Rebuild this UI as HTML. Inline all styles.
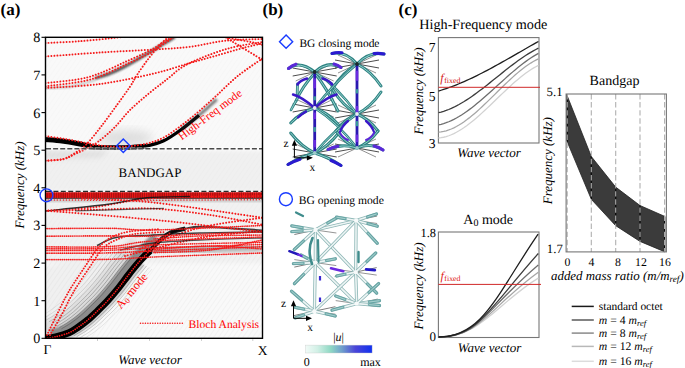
<!DOCTYPE html><html><head><meta charset="utf-8"><style>html,body{margin:0;padding:0;background:#fff;overflow:hidden;width:685px;height:368px;}svg{display:block;} text{font-family:"Liberation Serif",serif;text-rendering:geometricPrecision;}</style></head><body>
<svg width="685" height="368" viewBox="0 0 685 368">
<defs><clipPath id="ca"><rect x="45.5" y="37.3" width="217.0" height="301.0"/></clipPath><filter id="b1" x="-20%" y="-20%" width="140%" height="140%"><feGaussianBlur stdDeviation="1.2"/></filter><filter id="b05" x="-20%" y="-20%" width="140%" height="140%"><feGaussianBlur stdDeviation="0.6"/></filter><filter id="b08" x="-20%" y="-20%" width="140%" height="140%"><feGaussianBlur stdDeviation="0.85"/></filter><filter id="b2" x="-20%" y="-20%" width="140%" height="140%"><feGaussianBlur stdDeviation="2.5"/></filter><filter id="b4" x="-30%" y="-30%" width="160%" height="160%"><feGaussianBlur stdDeviation="5"/></filter><pattern id="stripes" width="4" height="4" patternUnits="userSpaceOnUse" patternTransform="rotate(35)"><line x1="0" y1="0" x2="0" y2="4" stroke="#000" stroke-opacity="0.035" stroke-width="1.5"/></pattern><pattern id="vstr" width="2.2" height="8" patternUnits="userSpaceOnUse"><rect x="1.1" width="0.9" height="8" fill="#300" fill-opacity="0.55"/></pattern><linearGradient id="cbar" x1="0" x2="1" y1="0" y2="0"><stop offset="0" stop-color="#f2fbf8"/><stop offset="0.18" stop-color="#d2f0e6"/><stop offset="0.38" stop-color="#8fd8c4"/><stop offset="0.55" stop-color="#6f9fcc"/><stop offset="0.75" stop-color="#4a45d8"/><stop offset="1" stop-color="#1030f0"/></linearGradient></defs>
<g clip-path="url(#ca)">
<rect x="45.5" y="37.3" width="217.0" height="301.0" fill="#f9f9f9"/>
<g filter="url(#b2)">
<rect x="40" y="151" width="230" height="40" fill="#f0f0f0"/>
<rect x="40" y="199" width="230" height="64" fill="#f1f1f1"/>
<path d="M40,345 L40,268 L70,262 L120,262 L112,285 L92,305 L72,325 L58,335 Z" fill="#f0f0f0"/>
<path d="M40,150 L110,150 L100,158 L40,160 Z" fill="#e2e2e2"/>
</g>
<rect x="45.5" y="252" width="217.0" height="86.3" fill="url(#stripes)"/>
<rect x="45.5" y="200" width="217.0" height="52" fill="url(#stripes)" opacity="0.5"/>
<rect x="45.5" y="37.3" width="217.0" height="162.7" fill="url(#stripes)" opacity="0.4"/>
<ellipse cx="125" cy="138" rx="28" ry="8" fill="#d8d8d8" filter="url(#b4)" opacity="0.8"/>
<path d="M40.0,139.4 C43.3,139.6 53.3,140.0 60.0,140.8 C66.7,141.6 74.2,142.9 80.0,144.0 C85.8,145.1 89.2,146.7 95.0,147.3 C100.8,147.9 109.0,147.8 115.0,147.8 C121.0,147.8 125.8,147.7 131.0,147.4 C136.2,147.1 140.6,147.3 146.0,146.2 C151.4,145.1 157.8,143.6 163.7,140.8 C169.6,138.0 175.4,133.8 181.3,129.5 C187.2,125.2 196.1,117.7 199.0,115.3" stroke="#000" stroke-width="3.4" fill="none" filter="url(#b05)"/>
<path d="M40.0,139.4 C43.3,139.6 53.3,140.0 60.0,140.8 C66.7,141.6 74.2,142.9 80.0,144.0 C85.8,145.1 89.2,146.7 95.0,147.3 C100.8,147.9 109.0,147.8 115.0,147.8 C121.0,147.8 125.8,147.7 131.0,147.4 C136.2,147.1 143.5,146.4 146.0,146.2" stroke="#000" stroke-width="5" fill="none" filter="url(#b05)"/>
<path d="M181.3,129.5 C184.2,127.1 193.1,120.3 199.0,115.3 C204.9,110.3 213.8,102.1 216.7,99.4" stroke="#222" stroke-width="3" fill="none" filter="url(#b1)" opacity="0.6"/>
<path d="M95.0,78.5 C97.5,77.7 105.0,75.5 110.0,73.5 C115.0,71.5 120.0,69.1 125.0,66.5 C130.0,63.9 135.5,60.6 140.0,58.0 C144.5,55.4 147.8,53.5 152.0,51.0 C156.2,48.5 161.2,45.3 165.0,43.0 C168.8,40.7 173.3,38.0 175.0,37.0" stroke="#222" stroke-width="2.6" fill="none" filter="url(#b1)" opacity="0.85"/>
<path d="M45.0,88.0 C49.2,87.8 61.7,87.8 70.0,86.5 C78.3,85.2 90.8,81.1 95.0,80.0" stroke="#555" stroke-width="2" fill="none" filter="url(#b1)" opacity="0.35"/>
<path d="M55.7,336.8 C57.9,336.1 65.2,334.4 69.0,332.8 C72.8,331.2 75.3,329.2 78.5,327.0 C81.7,324.8 84.8,322.5 88.0,319.8 C91.2,317.1 94.3,314.0 97.5,310.9 C100.7,307.8 103.5,305.2 107.0,301.4 C110.5,297.6 114.9,292.4 118.4,288.1 C121.9,283.8 124.6,279.9 128.0,275.5 C131.4,271.1 135.3,266.2 139.0,262.0 C142.7,257.8 148.2,252.4 150.0,250.5" stroke="#c4c4c4" stroke-width="20" fill="none" filter="url(#b2)" transform="translate(-11,-6)" opacity="0.45"/>
<path d="M55.7,336.8 C57.9,336.1 65.2,334.4 69.0,332.8 C72.8,331.2 75.3,329.2 78.5,327.0 C81.7,324.8 84.8,322.5 88.0,319.8 C91.2,317.1 94.3,314.0 97.5,310.9 C100.7,307.8 103.5,305.2 107.0,301.4 C110.5,297.6 114.9,292.4 118.4,288.1 C121.9,283.8 124.6,279.9 128.0,275.5 C131.4,271.1 135.3,266.2 139.0,262.0 C142.7,257.8 146.3,254.2 150.0,250.5 C153.7,246.8 159.2,241.3 161.0,239.5" stroke="#707070" stroke-width="9" fill="none" filter="url(#b1)" transform="translate(-5,-3)" opacity="0.75"/>
<path d="M55.7,336.8 C57.9,336.1 65.2,334.4 69.0,332.8 C72.8,331.2 75.3,329.2 78.5,327.0 C81.7,324.8 84.8,322.5 88.0,319.8 C91.2,317.1 94.3,314.0 97.5,310.9 C100.7,307.8 103.5,305.2 107.0,301.4 C110.5,297.6 114.9,292.4 118.4,288.1 C121.9,283.8 124.6,279.9 128.0,275.5 C131.4,271.1 137.2,264.2 139.0,262.0" stroke="#aaa" stroke-width="5" fill="none" filter="url(#b1)" transform="translate(3.5,2)" opacity="0.6"/>
<path d="M45.5,338.3 C47.2,338.1 51.8,337.7 55.7,336.8 C59.6,335.9 65.2,334.4 69.0,332.8 C72.8,331.2 75.3,329.2 78.5,327.0 C81.7,324.8 84.8,322.5 88.0,319.8 C91.2,317.1 94.3,314.0 97.5,310.9 C100.7,307.8 103.5,305.2 107.0,301.4 C110.5,297.6 114.9,292.4 118.4,288.1 C121.9,283.8 124.6,279.9 128.0,275.5 C131.4,271.1 135.3,266.2 139.0,262.0 C142.7,257.8 148.2,252.4 150.0,250.5" stroke="#000" stroke-width="7" fill="none" filter="url(#b05)"/>
<path d="M139.0,262.0 C140.8,260.1 146.3,254.2 150.0,250.5 C153.7,246.8 157.5,242.5 161.0,239.5 C164.5,236.5 166.8,234.3 170.8,232.5 C174.9,230.7 182.9,229.2 185.3,228.6" stroke="#000" stroke-width="4.2" fill="none" filter="url(#b05)" opacity="0.9"/>
<path d="M170.8,232.5 C173.2,231.8 179.9,229.5 185.3,228.6 C190.7,227.7 190.6,226.5 203.4,226.8 C216.2,227.1 252.2,229.8 262.0,230.4" stroke="#000" stroke-width="2" fill="none" filter="url(#b05)" opacity="0.75"/>
<path d="M69.0,332.8 C70.6,331.8 75.3,329.2 78.5,327.0 C81.7,324.8 84.8,322.5 88.0,319.8 C91.2,317.1 94.3,314.0 97.5,310.9 C100.7,307.8 103.5,305.2 107.0,301.4 C110.5,297.6 114.9,292.4 118.4,288.1 C121.9,283.8 124.6,279.9 128.0,275.5 C131.4,271.1 137.2,264.2 139.0,262.0" stroke="#444" stroke-width="0.9" fill="none" opacity="0.45" transform="translate(-7.5,-4.0)"/>
<path d="M69.0,332.8 C70.6,331.8 75.3,329.2 78.5,327.0 C81.7,324.8 84.8,322.5 88.0,319.8 C91.2,317.1 94.3,314.0 97.5,310.9 C100.7,307.8 103.5,305.2 107.0,301.4 C110.5,297.6 114.9,292.4 118.4,288.1 C121.9,283.8 124.6,279.9 128.0,275.5 C131.4,271.1 137.2,264.2 139.0,262.0" stroke="#444" stroke-width="0.9" fill="none" opacity="0.50" transform="translate(-9.5,-5.2)"/>
<path d="M69.0,332.8 C70.6,331.8 75.3,329.2 78.5,327.0 C81.7,324.8 84.8,322.5 88.0,319.8 C91.2,317.1 94.3,314.0 97.5,310.9 C100.7,307.8 103.5,305.2 107.0,301.4 C110.5,297.6 114.9,292.4 118.4,288.1 C121.9,283.8 124.6,279.9 128.0,275.5 C131.4,271.1 137.2,264.2 139.0,262.0" stroke="#444" stroke-width="0.9" fill="none" opacity="0.40" transform="translate(-12.0,-6.6)"/>
<path d="M69.0,332.8 C70.6,331.8 75.3,329.2 78.5,327.0 C81.7,324.8 84.8,322.5 88.0,319.8 C91.2,317.1 94.3,314.0 97.5,310.9 C100.7,307.8 103.5,305.2 107.0,301.4 C110.5,297.6 114.9,292.4 118.4,288.1 C121.9,283.8 124.6,279.9 128.0,275.5 C131.4,271.1 137.2,264.2 139.0,262.0" stroke="#444" stroke-width="0.9" fill="none" opacity="0.35" transform="translate(-14.5,-8.0)"/>
<path d="M69.0,332.8 C70.6,331.8 75.3,329.2 78.5,327.0 C81.7,324.8 84.8,322.5 88.0,319.8 C91.2,317.1 94.3,314.0 97.5,310.9 C100.7,307.8 103.5,305.2 107.0,301.4 C110.5,297.6 114.9,292.4 118.4,288.1 C121.9,283.8 124.6,279.9 128.0,275.5 C131.4,271.1 137.2,264.2 139.0,262.0" stroke="#444" stroke-width="0.9" fill="none" opacity="0.30" transform="translate(-17.0,-9.4)"/>
<path d="M69.0,332.8 C70.6,331.8 75.3,329.2 78.5,327.0 C81.7,324.8 84.8,322.5 88.0,319.8 C91.2,317.1 94.3,314.0 97.5,310.9 C100.7,307.8 103.5,305.2 107.0,301.4 C110.5,297.6 114.9,292.4 118.4,288.1 C121.9,283.8 124.6,279.9 128.0,275.5 C131.4,271.1 137.2,264.2 139.0,262.0" stroke="#444" stroke-width="0.9" fill="none" opacity="0.25" transform="translate(-20.0,-11.0)"/>
<path d="M69.0,332.8 C70.6,331.8 75.3,329.2 78.5,327.0 C81.7,324.8 84.8,322.5 88.0,319.8 C91.2,317.1 94.3,314.0 97.5,310.9 C100.7,307.8 103.5,305.2 107.0,301.4 C110.5,297.6 114.9,292.4 118.4,288.1 C121.9,283.8 124.6,279.9 128.0,275.5 C131.4,271.1 137.2,264.2 139.0,262.0" stroke="#444" stroke-width="0.9" fill="none" opacity="0.20" transform="translate(-23.0,-12.6)"/>
<path d="M69.0,332.8 C70.6,331.8 75.3,329.2 78.5,327.0 C81.7,324.8 84.8,322.5 88.0,319.8 C91.2,317.1 94.3,314.0 97.5,310.9 C100.7,307.8 103.5,305.2 107.0,301.4 C110.5,297.6 114.9,292.4 118.4,288.1 C121.9,283.8 124.6,279.9 128.0,275.5 C131.4,271.1 137.2,264.2 139.0,262.0" stroke="#444" stroke-width="0.9" fill="none" opacity="0.15" transform="translate(-26.0,-14.2)"/>
<path d="M69.0,332.8 C70.6,331.8 75.3,329.2 78.5,327.0 C81.7,324.8 84.8,322.5 88.0,319.8 C91.2,317.1 94.3,314.0 97.5,310.9 C100.7,307.8 103.5,305.2 107.0,301.4 C110.5,297.6 114.9,292.4 118.4,288.1 C121.9,283.8 124.6,279.9 128.0,275.5 C131.4,271.1 137.2,264.2 139.0,262.0" stroke="#444" stroke-width="0.9" fill="none" opacity="0.12" transform="translate(-29.0,-16.0)"/>
<path d="M69.0,332.8 C70.6,331.8 75.3,329.2 78.5,327.0 C81.7,324.8 84.8,322.5 88.0,319.8 C91.2,317.1 94.3,314.0 97.5,310.9 C100.7,307.8 103.5,305.2 107.0,301.4 C110.5,297.6 114.9,292.4 118.4,288.1 C121.9,283.8 124.6,279.9 128.0,275.5 C131.4,271.1 137.2,264.2 139.0,262.0" stroke="#444" stroke-width="0.9" fill="none" opacity="0.35" transform="translate(5.0,2.8)"/>
<path d="M69.0,332.8 C70.6,331.8 75.3,329.2 78.5,327.0 C81.7,324.8 84.8,322.5 88.0,319.8 C91.2,317.1 94.3,314.0 97.5,310.9 C100.7,307.8 103.5,305.2 107.0,301.4 C110.5,297.6 114.9,292.4 118.4,288.1 C121.9,283.8 124.6,279.9 128.0,275.5 C131.4,271.1 137.2,264.2 139.0,262.0" stroke="#444" stroke-width="0.9" fill="none" opacity="0.30" transform="translate(7.5,4.0)"/>
<path d="M69.0,332.8 C70.6,331.8 75.3,329.2 78.5,327.0 C81.7,324.8 84.8,322.5 88.0,319.8 C91.2,317.1 94.3,314.0 97.5,310.9 C100.7,307.8 103.5,305.2 107.0,301.4 C110.5,297.6 114.9,292.4 118.4,288.1 C121.9,283.8 124.6,279.9 128.0,275.5 C131.4,271.1 137.2,264.2 139.0,262.0" stroke="#444" stroke-width="0.9" fill="none" opacity="0.20" transform="translate(10.0,5.5)"/>
<path d="M69.0,332.8 C70.6,331.8 75.3,329.2 78.5,327.0 C81.7,324.8 84.8,322.5 88.0,319.8 C91.2,317.1 94.3,314.0 97.5,310.9 C100.7,307.8 103.5,305.2 107.0,301.4 C110.5,297.6 114.9,292.4 118.4,288.1 C121.9,283.8 124.6,279.9 128.0,275.5 C131.4,271.1 137.2,264.2 139.0,262.0" stroke="#444" stroke-width="0.9" fill="none" opacity="0.12" transform="translate(13.0,7.0)"/>
<rect x="45" y="192.3" width="218" height="5.6" fill="#f21616"/>
<line x1="45" y1="198.4" x2="263" y2="198.4" stroke="#300" stroke-width="1.1" opacity="0.75"/>
<rect x="45" y="199" width="218" height="3" fill="#777" opacity="0.35" filter="url(#b1)"/>
<path d="M45.5,43.0 C51.2,42.7 67.9,42.1 80.0,41.2 C92.1,40.3 109.7,38.4 118.0,37.5 C126.3,36.6 128.0,36.2 130.0,36.0" stroke="#f51a1a" stroke-width="1.95" stroke-dasharray="0.01 3.0" stroke-linecap="round" fill="none"/>
<path d="M45.5,56.5 C54.6,55.8 81.9,53.7 100.0,52.5 C118.1,51.3 139.0,50.5 154.0,49.5 C169.0,48.5 178.1,48.3 190.0,46.8 C201.9,45.3 213.4,42.0 225.5,40.7 C237.6,39.4 256.3,39.3 262.5,39.0" stroke="#f51a1a" stroke-width="1.95" stroke-dasharray="0.01 3.0" stroke-linecap="round" fill="none"/>
<path d="M45.5,83.1 C51.2,82.4 70.9,80.7 80.0,79.0 C89.1,77.3 92.5,76.0 100.0,73.2 C107.5,70.4 116.7,65.8 125.0,62.0 C133.3,58.2 143.7,53.8 150.0,50.5 C156.3,47.2 159.3,44.7 163.0,42.5 C166.7,40.3 169.8,38.5 172.0,37.3 C174.2,36.0 175.3,35.4 176.0,35.0" stroke="#f51a1a" stroke-width="1.95" stroke-dasharray="0.01 3.0" stroke-linecap="round" fill="none"/>
<path d="M45.5,86.3 C51.2,85.5 70.9,83.5 80.0,81.8 C89.1,80.1 92.5,79.1 100.0,76.3 C107.5,73.5 116.7,68.9 125.0,65.0 C133.3,61.1 143.3,56.7 150.0,53.0 C156.7,49.3 160.8,45.8 165.0,43.0 C169.2,40.2 173.3,37.2 175.0,36.0" stroke="#f51a1a" stroke-width="1.95" stroke-dasharray="0.01 3.0" stroke-linecap="round" fill="none"/>
<path d="M45.5,88.0 C54.6,87.3 81.9,86.4 100.0,84.0 C118.1,81.6 139.0,77.0 154.0,73.5 C169.0,70.0 179.8,65.9 190.0,63.0 C200.2,60.1 206.2,58.5 215.0,56.0 C223.8,53.5 235.1,50.1 243.0,48.0 C250.9,45.9 259.2,44.2 262.5,43.5" stroke="#f51a1a" stroke-width="1.95" stroke-dasharray="0.01 3.0" stroke-linecap="round" fill="none"/>
<path d="M226.6,37.5 C228.8,37.9 235.8,39.2 240.0,40.0 C244.2,40.8 248.2,41.5 252.0,42.3 C255.8,43.1 260.8,44.5 262.5,45.0" stroke="#f51a1a" stroke-width="1.95" stroke-dasharray="0.01 3.0" stroke-linecap="round" fill="none"/>
<path d="M45.5,160.6 C48.5,160.3 58.5,160.2 63.4,158.9 C68.3,157.6 71.1,155.5 75.0,153.0 C78.9,150.5 82.3,148.5 86.7,144.0 C91.1,139.5 96.4,132.6 101.5,126.0 C106.6,119.4 112.6,111.0 117.3,104.5 C122.0,98.0 126.3,92.2 129.6,87.3 C132.9,82.4 133.7,80.0 136.9,75.1 C140.1,70.2 144.9,63.3 149.0,58.0 C153.1,52.7 158.1,46.8 161.4,43.3 C164.7,39.8 167.1,38.6 168.7,37.2 C170.3,35.8 170.6,35.4 171.0,35.0" stroke="#f51a1a" stroke-width="1.95" stroke-dasharray="0.01 3.0" stroke-linecap="round" fill="none"/>
<path d="M45.5,160.8 C48.5,160.5 58.5,160.3 63.4,159.2 C68.3,158.1 71.1,155.8 75.0,154.0 C78.9,152.2 82.8,150.6 86.7,148.5 C90.6,146.4 93.8,145.0 98.4,141.5 C103.0,138.0 109.2,132.8 114.5,127.5 C119.8,122.2 124.3,115.7 130.0,110.0 C135.7,104.3 142.7,98.6 148.8,93.5 C154.9,88.4 161.3,83.8 166.8,79.5 C172.3,75.2 176.2,71.0 181.7,67.5 C187.2,64.0 191.9,61.8 200.0,58.5 C208.1,55.2 219.6,50.8 230.0,48.0 C240.4,45.2 257.1,43.0 262.5,42.0" stroke="#f51a1a" stroke-width="1.95" stroke-dasharray="0.01 3.0" stroke-linecap="round" fill="none"/>
<path d="M225.5,37.3 C227.9,38.8 234.1,42.6 240.0,46.2 C245.9,49.8 257.2,56.6 261.0,59.0 C264.8,61.4 262.7,60.2 263.0,60.5" stroke="#f51a1a" stroke-width="1.95" stroke-dasharray="0.01 3.0" stroke-linecap="round" fill="none"/>
<path d="M45.5,136.1 C48.8,136.6 58.1,137.8 65.0,139.0 C71.9,140.2 80.0,141.9 86.7,143.1 C93.4,144.3 98.7,145.4 105.0,146.0 C111.3,146.6 118.0,147.0 124.8,146.6 C131.6,146.2 139.5,145.3 146.0,143.8 C152.5,142.3 157.8,140.6 163.7,137.5 C169.6,134.4 175.4,129.9 181.3,125.5 C187.2,121.1 193.1,116.3 199.0,111.3 C204.9,106.3 210.2,101.3 216.7,95.4 C223.2,89.5 230.2,82.1 237.9,75.9 C245.6,69.7 258.5,61.2 262.6,58.3" stroke="#f51a1a" stroke-width="1.95" stroke-dasharray="0.01 3.0" stroke-linecap="round" fill="none"/>
<path d="M45.5,193.2 L262.5,193.0" stroke="#f51a1a" stroke-width="1.30" stroke-dasharray="0.01 3.0" stroke-linecap="round" fill="none"/>
<path d="M45.5,195.2 L262.5,195.0" stroke="#f51a1a" stroke-width="1.30" stroke-dasharray="0.01 3.0" stroke-linecap="round" fill="none"/>
<path d="M45.5,197.2 L262.5,197.0" stroke="#f51a1a" stroke-width="1.30" stroke-dasharray="0.01 3.0" stroke-linecap="round" fill="none"/>
<path d="M45.5,200.0 C62.9,200.0 113.8,200.3 150.0,200.2 C186.2,200.1 243.8,199.7 262.5,199.6" stroke="#f51a1a" stroke-width="1.50" stroke-dasharray="0.01 3.0" stroke-linecap="round" fill="none"/>
<rect x="45" y="192.3" width="218" height="5.6" fill="url(#vstr)"/>
<path d="M45.5,210.7 C53.2,210.2 76.2,209.4 92.0,207.5 C107.8,205.6 125.3,201.2 140.0,199.5 C154.7,197.8 159.6,197.6 180.0,197.0 C200.4,196.4 248.8,196.2 262.5,196.0" stroke="#f51a1a" stroke-width="1.95" stroke-dasharray="0.01 3.0" stroke-linecap="round" fill="none"/>
<path d="M45.5,211.0 C55.9,209.9 91.1,206.5 108.0,204.3 C124.9,202.1 133.1,199.1 146.8,197.8 C160.5,196.5 182.8,196.7 190.0,196.5" stroke="#111" stroke-width="1.4" fill="none" opacity="0.85"/>
<path d="M82.5,198.5 C94.4,199.2 124.0,199.4 154.0,202.6 C184.0,205.8 244.4,215.2 262.5,217.7" stroke="#f51a1a" stroke-width="1.95" stroke-dasharray="0.01 3.0" stroke-linecap="round" fill="none"/>
<path d="M45.5,210.7 C54.6,210.5 81.9,209.9 100.0,209.6 C118.1,209.2 135.7,207.7 154.0,208.6 C172.3,209.5 191.9,212.3 210.0,215.0 C228.1,217.7 253.8,223.1 262.5,224.7" stroke="#f51a1a" stroke-width="1.95" stroke-dasharray="0.01 3.0" stroke-linecap="round" fill="none"/>
<path d="M75.0,210.8 C82.5,210.6 105.2,210.0 120.0,209.6 C134.8,209.2 156.7,208.6 164.0,208.4" stroke="#111" stroke-width="1.3" fill="none" opacity="0.6"/>
<path d="M45.5,210.7 C54.6,211.4 80.2,213.3 100.0,215.0 C119.8,216.7 145.7,219.0 164.0,220.8 C182.3,222.6 193.6,224.2 210.0,226.0 C226.4,227.8 253.8,230.8 262.5,231.8" stroke="#f51a1a" stroke-width="1.95" stroke-dasharray="0.01 3.0" stroke-linecap="round" fill="none"/>
<path d="M140.0,249.0 C149.7,245.5 177.6,233.4 198.0,228.2 C218.4,223.0 251.8,219.4 262.5,217.7" stroke="#f51a1a" stroke-width="1.95" stroke-dasharray="0.01 3.0" stroke-linecap="round" fill="none"/>
<path d="M125.0,256.0 C137.5,253.0 177.1,242.2 200.0,238.0 C222.9,233.8 252.1,232.2 262.5,231.0" stroke="#f51a1a" stroke-width="1.95" stroke-dasharray="0.01 3.0" stroke-linecap="round" fill="none"/>
<path d="M97.0,245.5 C100.2,244.2 106.8,239.2 116.3,237.5 C125.8,235.8 140.1,235.8 154.0,235.0 C167.9,234.2 182.0,233.5 200.0,233.0 C218.0,232.5 251.7,232.2 262.0,232.0" stroke="#111" stroke-width="1.5" fill="none" opacity="0.8"/>
<path d="M120.0,250.0 C125.7,248.8 140.7,244.7 154.0,243.0 C167.3,241.3 182.0,240.8 200.0,240.0 C218.0,239.2 251.7,238.3 262.0,238.0" stroke="#111" stroke-width="1.3" fill="none" opacity="0.7"/>
<path d="M150.0,252.0 C158.3,251.5 181.3,249.8 200.0,249.0 C218.7,248.2 251.7,247.3 262.0,247.0" stroke="#000" stroke-width="6" fill="none" opacity="0.35" filter="url(#b2)"/>
<path d="M45.5,228.6 C56.2,228.5 91.9,228.1 110.0,228.3 C128.1,228.5 128.6,230.5 154.0,230.0 C179.4,229.5 244.4,226.2 262.5,225.5" stroke="#f51a1a" stroke-width="1.70" stroke-dasharray="0.01 1.9" stroke-linecap="round" fill="none"/>
<path d="M45.5,236.2 C56.2,236.1 91.9,235.9 110.0,235.9 C128.1,235.9 128.6,236.7 154.0,236.0 C179.4,235.3 244.4,232.5 262.5,231.8" stroke="#f51a1a" stroke-width="1.70" stroke-dasharray="0.01 1.9" stroke-linecap="round" fill="none"/>
<path d="M45.5,246.8 C56.2,246.8 91.9,247.5 110.0,246.5 C128.1,245.5 128.6,242.6 154.0,241.0 C179.4,239.4 244.4,237.7 262.5,237.0" stroke="#f51a1a" stroke-width="1.70" stroke-dasharray="0.01 1.9" stroke-linecap="round" fill="none"/>
<path d="M45.5,248.7 C56.2,248.6 91.9,249.0 110.0,248.4 C128.1,247.8 128.6,246.0 154.0,245.0 C179.4,244.0 244.4,242.8 262.5,242.4" stroke="#f51a1a" stroke-width="1.70" stroke-dasharray="0.01 1.9" stroke-linecap="round" fill="none"/>
<path d="M45.5,250.5 C56.2,250.4 91.9,250.6 110.0,250.2 C128.1,249.8 128.6,248.9 154.0,248.0 C179.4,247.1 244.4,245.1 262.5,244.5" stroke="#f51a1a" stroke-width="1.70" stroke-dasharray="0.01 1.9" stroke-linecap="round" fill="none"/>
<path d="M45.5,253.2 C56.2,253.1 91.9,253.3 110.0,252.9 C128.1,252.5 128.6,252.0 154.0,251.0 C179.4,250.0 244.4,247.5 262.5,246.8" stroke="#f51a1a" stroke-width="1.70" stroke-dasharray="0.01 1.9" stroke-linecap="round" fill="none"/>
<path d="M45.5,259.6 C56.2,259.6 91.9,259.7 110.0,259.3 C128.1,258.9 128.6,258.1 154.0,257.0 C179.4,255.9 244.4,253.7 262.5,253.0" stroke="#f51a1a" stroke-width="1.70" stroke-dasharray="0.01 1.9" stroke-linecap="round" fill="none"/>
<path d="M154.0,239.0 C161.7,238.5 181.9,236.7 200.0,236.0 C218.1,235.3 252.1,235.2 262.5,235.0" stroke="#f51a1a" stroke-width="1.70" stroke-dasharray="0.01 1.9" stroke-linecap="round" fill="none"/>
<path d="M154.0,249.5 C163.3,248.9 191.9,246.1 210.0,246.0 C228.1,245.9 253.8,248.5 262.5,249.0" stroke="#f51a1a" stroke-width="1.70" stroke-dasharray="0.01 1.9" stroke-linecap="round" fill="none"/>
<path d="M154.0,252.7 C163.3,252.2 191.9,252.1 210.0,250.0 C228.1,247.9 253.8,241.7 262.5,240.0" stroke="#f51a1a" stroke-width="1.70" stroke-dasharray="0.01 1.9" stroke-linecap="round" fill="none"/>
<path d="M45.5,338.3 C47.2,338.1 51.8,337.7 55.7,336.8 C59.6,335.9 65.2,334.4 69.0,332.8 C72.8,331.2 75.3,329.2 78.5,327.0 C81.7,324.8 84.8,322.5 88.0,319.8 C91.2,317.1 94.3,314.0 97.5,310.9 C100.7,307.8 103.5,305.2 107.0,301.4 C110.5,297.6 114.9,292.4 118.4,288.1 C121.9,283.8 124.6,279.9 128.0,275.5 C131.4,271.1 135.3,266.2 139.0,262.0 C142.7,257.8 146.3,254.2 150.0,250.5 C153.7,246.8 157.5,242.5 161.0,239.5 C164.5,236.5 169.2,233.7 170.8,232.5" stroke="#f51a1a" stroke-width="1.7" stroke-dasharray="0.01 2.4" stroke-linecap="round" fill="none"/>
<path d="M47.0,335.0 C48.5,331.8 53.1,322.3 56.2,316.0 C59.3,309.7 62.8,302.4 65.7,297.0 C68.6,291.6 70.6,288.4 73.8,283.4 C77.0,278.4 81.5,271.9 84.7,267.1 C87.9,262.4 90.2,258.4 92.8,254.9 C95.3,251.4 96.8,249.0 100.0,246.0 C103.2,243.0 107.0,239.4 112.0,237.0 C117.0,234.6 122.0,232.8 130.0,231.5 C138.0,230.2 155.0,229.4 160.0,229.0" stroke="#f51a1a" stroke-width="1.9" stroke-dasharray="0.01 2.8" stroke-linecap="round" fill="none"/>
<path d="M50.0,335.0 C51.8,331.8 57.5,322.3 61.0,316.0 C64.5,309.7 67.7,302.4 70.7,297.0 C73.7,291.6 75.6,288.4 78.8,283.4 C82.0,278.4 86.5,271.9 89.7,267.1 C92.9,262.4 95.4,258.2 97.8,254.9 C100.2,251.6 101.0,249.5 104.0,247.0 C107.0,244.5 110.8,242.2 116.0,240.0 C121.2,237.8 126.8,235.3 135.0,234.0 C143.2,232.7 160.0,232.3 165.0,232.0" stroke="#f51a1a" stroke-width="1.9" stroke-dasharray="0.01 2.8" stroke-linecap="round" fill="none"/>
</g>
<line x1="46" y1="148.8" x2="262.5" y2="148.8" stroke="#fff" stroke-width="3" stroke-dasharray="6 1" stroke-dashoffset="0.5" opacity="0.6"/>
<line x1="46" y1="148.8" x2="262.5" y2="148.8" stroke="#4a4a4a" stroke-width="1.4" stroke-dasharray="5 2.1"/>
<line x1="46" y1="191.3" x2="262.5" y2="191.3" stroke="#2a2a2a" stroke-width="1.3" stroke-dasharray="5 2.4"/>
<rect x="45.5" y="37.3" width="217" height="301" fill="none" stroke="#000" stroke-width="1.4"/>
<line x1="41.5" y1="338.3" x2="45.5" y2="338.3" stroke="#000" stroke-width="1.1"/>
<text x="40.3" y="343.3" font-size="14.2" text-anchor="end">0</text>
<line x1="41.5" y1="300.7" x2="45.5" y2="300.7" stroke="#000" stroke-width="1.1"/>
<text x="40.3" y="305.7" font-size="14.2" text-anchor="end">1</text>
<line x1="41.5" y1="263.1" x2="45.5" y2="263.1" stroke="#000" stroke-width="1.1"/>
<text x="40.3" y="268.1" font-size="14.2" text-anchor="end">2</text>
<line x1="41.5" y1="225.4" x2="45.5" y2="225.4" stroke="#000" stroke-width="1.1"/>
<text x="40.3" y="230.4" font-size="14.2" text-anchor="end">3</text>
<line x1="41.5" y1="187.8" x2="45.5" y2="187.8" stroke="#000" stroke-width="1.1"/>
<text x="40.3" y="192.8" font-size="14.2" text-anchor="end">4</text>
<line x1="41.5" y1="150.2" x2="45.5" y2="150.2" stroke="#000" stroke-width="1.1"/>
<text x="40.3" y="155.2" font-size="14.2" text-anchor="end">5</text>
<line x1="41.5" y1="112.6" x2="45.5" y2="112.6" stroke="#000" stroke-width="1.1"/>
<text x="40.3" y="117.6" font-size="14.2" text-anchor="end">6</text>
<line x1="41.5" y1="74.9" x2="45.5" y2="74.9" stroke="#000" stroke-width="1.1"/>
<text x="40.3" y="79.9" font-size="14.2" text-anchor="end">7</text>
<line x1="41.5" y1="37.3" x2="45.5" y2="37.3" stroke="#000" stroke-width="1.1"/>
<text x="40.3" y="42.3" font-size="14.2" text-anchor="end">8</text>
<line x1="97.5" y1="338.3" x2="97.5" y2="341" stroke="#000" stroke-width="0.8" opacity="0.25"/>
<line x1="149.4" y1="338.3" x2="149.4" y2="341" stroke="#000" stroke-width="0.8" opacity="0.25"/>
<line x1="201.4" y1="338.3" x2="201.4" y2="341" stroke="#000" stroke-width="0.8" opacity="0.25"/>
<line x1="252.8" y1="338.3" x2="252.8" y2="341" stroke="#000" stroke-width="0.8" opacity="0.25"/>
<text x="47.5" y="354.3" font-size="13.5" text-anchor="middle">Γ</text>
<text x="262.5" y="355" font-size="13.5" text-anchor="middle">X</text>
<text x="150" y="364.2" font-size="13" font-style="italic" text-anchor="middle">Wave vector</text>
<text transform="translate(23.5,185) rotate(-90)" font-size="13" font-style="italic" text-anchor="middle">Frequency (kHz)</text>
<text x="0.5" y="14.7" font-size="17" font-weight="bold">(a)</text>
<text x="150" y="176.9" font-size="13" text-anchor="middle">BANDGAP</text>
<text transform="translate(181.8,140.6) rotate(-37)" font-size="11.5" fill="#f00">High-Freq mode</text>
<text transform="translate(121,309.5) rotate(-50)" font-size="12" fill="#f00">A<tspan font-size="8" dy="1.8">0</tspan><tspan dy="-1.8"> mode</tspan></text>
<line x1="140.5" y1="323.2" x2="183" y2="323.2" stroke="#f51a1a" stroke-width="1.6" stroke-dasharray="0.01 2.45" stroke-linecap="round"/>
<text x="188.6" y="328" font-size="11.6" fill="#f00">Bloch Analysis</text>
<path d="M123.3,138.9 L130,145.7 L123.3,152.5 L116.6,145.7 Z" fill="none" stroke="#1a3cff" stroke-width="1.4"/>
<circle cx="46.5" cy="195.3" r="6.4" fill="none" stroke="#1a3cff" stroke-width="1.4"/>
<text x="262.5" y="14.7" font-size="17" font-weight="bold">(b)</text>
<path d="M286.1,35.1 L292.7,41.7 L286.1,48.3 L279.5,41.7 Z" fill="none" stroke="#1a3cff" stroke-width="1.4"/>
<text x="299.4" y="46.5" font-size="11.45">BG closing mode</text>
<circle cx="285.9" cy="199.2" r="6.5" fill="none" stroke="#1a3cff" stroke-width="1.4"/>
<text x="298.8" y="204" font-size="11.6">BG opening mode</text>
<line x1="292.7" y1="68.0" x2="336.7" y2="76.0" stroke="#000" stroke-width="0.70"/><line x1="292.7" y1="76.0" x2="336.7" y2="68.0" stroke="#000" stroke-width="0.70"/><line x1="295.7" y1="63.0" x2="333.7" y2="81.0" stroke="#222" stroke-width="0.50"/><line x1="295.7" y1="81.0" x2="333.7" y2="63.0" stroke="#222" stroke-width="0.50"/><line x1="335.0" y1="60.0" x2="379.0" y2="68.0" stroke="#000" stroke-width="0.70"/><line x1="335.0" y1="68.0" x2="379.0" y2="60.0" stroke="#000" stroke-width="0.70"/><line x1="338.0" y1="55.0" x2="376.0" y2="73.0" stroke="#222" stroke-width="0.50"/><line x1="338.0" y1="73.0" x2="376.0" y2="55.0" stroke="#222" stroke-width="0.50"/><line x1="292.7" y1="104.0" x2="336.7" y2="112.0" stroke="#000" stroke-width="0.70"/><line x1="292.7" y1="112.0" x2="336.7" y2="104.0" stroke="#000" stroke-width="0.70"/><line x1="295.7" y1="99.0" x2="333.7" y2="117.0" stroke="#222" stroke-width="0.50"/><line x1="295.7" y1="117.0" x2="333.7" y2="99.0" stroke="#222" stroke-width="0.50"/><line x1="335.0" y1="110.0" x2="379.0" y2="118.0" stroke="#000" stroke-width="0.70"/><line x1="335.0" y1="118.0" x2="379.0" y2="110.0" stroke="#000" stroke-width="0.70"/><line x1="338.0" y1="105.0" x2="376.0" y2="123.0" stroke="#222" stroke-width="0.50"/><line x1="338.0" y1="123.0" x2="376.0" y2="105.0" stroke="#222" stroke-width="0.50"/><line x1="292.7" y1="149.0" x2="336.7" y2="157.0" stroke="#000" stroke-width="0.70"/><line x1="292.7" y1="157.0" x2="336.7" y2="149.0" stroke="#000" stroke-width="0.70"/><line x1="295.7" y1="144.0" x2="333.7" y2="162.0" stroke="#222" stroke-width="0.50"/><line x1="295.7" y1="162.0" x2="333.7" y2="144.0" stroke="#222" stroke-width="0.50"/><line x1="335.0" y1="144.0" x2="379.0" y2="152.0" stroke="#000" stroke-width="0.70"/><line x1="335.0" y1="152.0" x2="379.0" y2="144.0" stroke="#000" stroke-width="0.70"/><line x1="338.0" y1="139.0" x2="376.0" y2="157.0" stroke="#222" stroke-width="0.50"/><line x1="338.0" y1="157.0" x2="376.0" y2="139.0" stroke="#222" stroke-width="0.50"/><path d="M314.7,73 Q326,87 338,111" stroke="#2d8282" stroke-width="3.0" fill="none" stroke-linecap="round"/><path d="M314.7,73 Q326,87 338,111" stroke="#9ed8d3" stroke-width="1.0" fill="none" stroke-linecap="round" opacity="0.9"/><path d="M314.7,73 Q302,87 296,101" stroke="#2d8282" stroke-width="3.0" fill="none" stroke-linecap="round"/><path d="M314.7,73 Q302,87 296,101" stroke="#9ed8d3" stroke-width="1.0" fill="none" stroke-linecap="round" opacity="0.9"/><path d="M296,101 Q293,106 291,110" stroke="#2d8282" stroke-width="2.6" fill="none" stroke-linecap="round"/><path d="M296,101 Q293,106 291,110" stroke="#9ed8d3" stroke-width="1.0" fill="none" stroke-linecap="round" opacity="0.9"/><path d="M297.5,84 L297.2,94" stroke="#2d8282" stroke-width="2.8" fill="none" stroke-linecap="round"/><path d="M297.5,84 L297.2,94" stroke="#9ed8d3" stroke-width="1.0" fill="none" stroke-linecap="round" opacity="0.9"/><path d="M332,84 L332.3,94" stroke="#2d8282" stroke-width="2.8" fill="none" stroke-linecap="round"/><path d="M332,84 L332.3,94" stroke="#9ed8d3" stroke-width="1.0" fill="none" stroke-linecap="round" opacity="0.9"/><path d="M314.7,108.0 Q301.7,111.5 290.7,123.0" stroke="#2d8282" stroke-width="3.0" fill="none" stroke-linecap="round"/><path d="M314.7,108.0 Q301.7,111.5 290.7,123.0" stroke="#9ed8d3" stroke-width="1.0" fill="none" stroke-linecap="round" opacity="0.9"/><path d="M314.7,108.0 Q327.7,112.5 338.7,125.0" stroke="#2d8282" stroke-width="3.0" fill="none" stroke-linecap="round"/><path d="M314.7,108.0 Q327.7,112.5 338.7,125.0" stroke="#9ed8d3" stroke-width="1.0" fill="none" stroke-linecap="round" opacity="0.9"/><path d="M314.7,153.0 Q301.7,147.0 290.7,133.0" stroke="#2d8282" stroke-width="3.0" fill="none" stroke-linecap="round"/><path d="M314.7,153.0 Q301.7,147.0 290.7,133.0" stroke="#9ed8d3" stroke-width="1.0" fill="none" stroke-linecap="round" opacity="0.9"/><path d="M314.7,153.0 Q327.7,147.0 338.7,133.0" stroke="#2d8282" stroke-width="3.0" fill="none" stroke-linecap="round"/><path d="M314.7,153.0 Q327.7,147.0 338.7,133.0" stroke="#9ed8d3" stroke-width="1.0" fill="none" stroke-linecap="round" opacity="0.9"/><path d="M357.0,64.0 Q343.0,72.0 333.0,88.0" stroke="#2d8282" stroke-width="3.0" fill="none" stroke-linecap="round"/><path d="M357.0,64.0 Q343.0,72.0 333.0,88.0" stroke="#9ed8d3" stroke-width="1.0" fill="none" stroke-linecap="round" opacity="0.9"/><path d="M357.0,64.0 Q371.0,71.0 381.0,86.0" stroke="#2d8282" stroke-width="3.0" fill="none" stroke-linecap="round"/><path d="M357.0,64.0 Q371.0,71.0 381.0,86.0" stroke="#9ed8d3" stroke-width="1.0" fill="none" stroke-linecap="round" opacity="0.9"/><path d="M357.0,114.0 Q343.0,106.0 333.0,90.0" stroke="#2d8282" stroke-width="3.0" fill="none" stroke-linecap="round"/><path d="M357.0,114.0 Q343.0,106.0 333.0,90.0" stroke="#9ed8d3" stroke-width="1.0" fill="none" stroke-linecap="round" opacity="0.9"/><path d="M357.0,114.0 Q371.0,107.0 381.0,92.0" stroke="#2d8282" stroke-width="3.0" fill="none" stroke-linecap="round"/><path d="M357.0,114.0 Q371.0,107.0 381.0,92.0" stroke="#9ed8d3" stroke-width="1.0" fill="none" stroke-linecap="round" opacity="0.9"/><path d="M357.0,114.0 Q345.5,118.5 336.0,131.0" stroke="#2d8282" stroke-width="3.0" fill="none" stroke-linecap="round"/><path d="M357.0,114.0 Q345.5,118.5 336.0,131.0" stroke="#9ed8d3" stroke-width="1.0" fill="none" stroke-linecap="round" opacity="0.9"/><path d="M357.0,114.0 Q368.5,118.5 378.0,131.0" stroke="#2d8282" stroke-width="3.0" fill="none" stroke-linecap="round"/><path d="M357.0,114.0 Q368.5,118.5 378.0,131.0" stroke="#9ed8d3" stroke-width="1.0" fill="none" stroke-linecap="round" opacity="0.9"/><path d="M357.0,148.0 Q345.5,143.5 336.0,131.0" stroke="#2d8282" stroke-width="3.0" fill="none" stroke-linecap="round"/><path d="M357.0,148.0 Q345.5,143.5 336.0,131.0" stroke="#9ed8d3" stroke-width="1.0" fill="none" stroke-linecap="round" opacity="0.9"/><path d="M357.0,148.0 Q368.5,143.5 378.0,131.0" stroke="#2d8282" stroke-width="3.0" fill="none" stroke-linecap="round"/><path d="M357.0,148.0 Q368.5,143.5 378.0,131.0" stroke="#9ed8d3" stroke-width="1.0" fill="none" stroke-linecap="round" opacity="0.9"/><path d="M314.7,72 Q337,86 357,114" stroke="#2d8282" stroke-width="2.6" fill="none" stroke-linecap="round"/><path d="M314.7,72 Q337,86 357,114" stroke="#9ed8d3" stroke-width="1.0" fill="none" stroke-linecap="round" opacity="0.9"/><path d="M357,64 Q335,82 314.7,108" stroke="#2d8282" stroke-width="2.6" fill="none" stroke-linecap="round"/><path d="M357,64 Q335,82 314.7,108" stroke="#9ed8d3" stroke-width="1.0" fill="none" stroke-linecap="round" opacity="0.9"/><path d="M314.7,108 Q337,122 357,148" stroke="#2d8282" stroke-width="2.6" fill="none" stroke-linecap="round"/><path d="M314.7,108 Q337,122 357,148" stroke="#9ed8d3" stroke-width="1.0" fill="none" stroke-linecap="round" opacity="0.9"/><path d="M357,114 Q334,130 314.7,153" stroke="#2d8282" stroke-width="2.6" fill="none" stroke-linecap="round"/><path d="M357,114 Q334,130 314.7,153" stroke="#9ed8d3" stroke-width="1.0" fill="none" stroke-linecap="round" opacity="0.9"/><path d="M288.5,68.5 Q300,60 314.7,72" stroke="#2d8282" stroke-width="3.0" fill="none" stroke-linecap="round"/><path d="M288.5,68.5 Q300,60 314.7,72" stroke="#9ed8d3" stroke-width="1.0" fill="none" stroke-linecap="round" opacity="0.9"/><path d="M314.7,72 Q328,60 341,67.5" stroke="#2d8282" stroke-width="3.0" fill="none" stroke-linecap="round"/><path d="M314.7,72 Q328,60 341,67.5" stroke="#9ed8d3" stroke-width="1.0" fill="none" stroke-linecap="round" opacity="0.9"/><path d="M332,53.5 Q346,51 357,64" stroke="#2d8282" stroke-width="3.0" fill="none" stroke-linecap="round"/><path d="M332,53.5 Q346,51 357,64" stroke="#9ed8d3" stroke-width="1.0" fill="none" stroke-linecap="round" opacity="0.9"/><path d="M357,64 Q369,51 384,54" stroke="#2d8282" stroke-width="3.0" fill="none" stroke-linecap="round"/><path d="M357,64 Q369,51 384,54" stroke="#9ed8d3" stroke-width="1.0" fill="none" stroke-linecap="round" opacity="0.9"/><path d="M288,164.5 Q302,156 314.7,153" stroke="#2d8282" stroke-width="3.0" fill="none" stroke-linecap="round"/><path d="M288,164.5 Q302,156 314.7,153" stroke="#9ed8d3" stroke-width="1.0" fill="none" stroke-linecap="round" opacity="0.9"/><path d="M314.7,153 Q328,157 341,165.5" stroke="#2d8282" stroke-width="3.0" fill="none" stroke-linecap="round"/><path d="M314.7,153 Q328,157 341,165.5" stroke="#9ed8d3" stroke-width="1.0" fill="none" stroke-linecap="round" opacity="0.9"/><path d="M328,149.5 Q342,143 357,148" stroke="#2d8282" stroke-width="3.0" fill="none" stroke-linecap="round"/><path d="M328,149.5 Q342,143 357,148" stroke="#9ed8d3" stroke-width="1.0" fill="none" stroke-linecap="round" opacity="0.9"/><path d="M357,148 Q370,142 383,150" stroke="#2d8282" stroke-width="3.0" fill="none" stroke-linecap="round"/><path d="M357,148 Q370,142 383,150" stroke="#9ed8d3" stroke-width="1.0" fill="none" stroke-linecap="round" opacity="0.9"/><path d="M288.5,68.5 Q292,65.5 296,64.3" stroke="#5a28d8" stroke-width="3.0" fill="none" stroke-linecap="round"/><path d="M341,67.5 Q338,65 334,64" stroke="#5a28d8" stroke-width="3.0" fill="none" stroke-linecap="round"/><path d="M332,53.5 Q337,52.2 342,52.8" stroke="#2a1ad0" stroke-width="3.0" fill="none" stroke-linecap="round"/><path d="M384,54 Q379,53 374,53.6" stroke="#2a1ad0" stroke-width="3.0" fill="none" stroke-linecap="round"/><path d="M288,164.5 Q294,161 300,159.2" stroke="#2a1ad0" stroke-width="3.0" fill="none" stroke-linecap="round"/><path d="M341,165.5 Q336,162.5 331,160.5" stroke="#2a1ad0" stroke-width="3.0" fill="none" stroke-linecap="round"/><path d="M328,149.5 Q333,147.3 338,146.3" stroke="#5a28d8" stroke-width="3.0" fill="none" stroke-linecap="round"/><path d="M383,150 Q379,147 374,146" stroke="#5a28d8" stroke-width="3.0" fill="none" stroke-linecap="round"/><path d="M307,78.5 Q300,80.5 297.5,84.5" stroke="#3a18c8" stroke-width="2.6" fill="none" stroke-linecap="round"/><path d="M293,94.5 Q302,97 314.7,108" stroke="#3a18c8" stroke-width="2.4" fill="none" stroke-linecap="round"/><path d="M322.5,78.5 Q329.5,80.5 332,84.5" stroke="#3a18c8" stroke-width="2.6" fill="none" stroke-linecap="round"/><path d="M336.5,94.5 Q327,97 314.7,108" stroke="#3a18c8" stroke-width="2.4" fill="none" stroke-linecap="round"/><path d="M348,121 Q342,126 340,132" stroke="#3a18c8" stroke-width="2.3" fill="none" stroke-linecap="round"/><path d="M366,121 Q372,126 374,132" stroke="#3a18c8" stroke-width="2.3" fill="none" stroke-linecap="round"/><path d="M340,133 Q343,138 348,140" stroke="#5a28d8" stroke-width="2.0" fill="none" stroke-linecap="round"/><path d="M374,133 Q371,138 366,140" stroke="#5a28d8" stroke-width="2.0" fill="none" stroke-linecap="round"/><path d="M306,111.5 Q301,114.5 298,117.5" stroke="#3a18c8" stroke-width="2.4" fill="none" stroke-linecap="round"/><line x1="314.7" y1="72.0" x2="314.7" y2="153.0" stroke="#2a18b0" stroke-width="2.8"/><line x1="314.7" y1="78.5" x2="314.7" y2="88.2" stroke="#6a2ae0" stroke-width="2.4"/><line x1="314.7" y1="96.3" x2="314.7" y2="100.3" stroke="#3a9a9a" stroke-width="2.4"/><line x1="314.7" y1="112.5" x2="314.7" y2="119.0" stroke="#6a2ae0" stroke-width="2.4"/><line x1="314.7" y1="127.1" x2="314.7" y2="131.9" stroke="#3a9a9a" stroke-width="2.4"/><line x1="314.7" y1="140.0" x2="314.7" y2="147.3" stroke="#6a2ae0" stroke-width="2.4"/><line x1="357.0" y1="64.0" x2="357.0" y2="148.0" stroke="#2a18b0" stroke-width="2.8"/><line x1="357.0" y1="70.7" x2="357.0" y2="80.8" stroke="#6a2ae0" stroke-width="2.4"/><line x1="357.0" y1="89.2" x2="357.0" y2="93.4" stroke="#3a9a9a" stroke-width="2.4"/><line x1="357.0" y1="106.0" x2="357.0" y2="112.7" stroke="#6a2ae0" stroke-width="2.4"/><line x1="357.0" y1="121.1" x2="357.0" y2="126.2" stroke="#3a9a9a" stroke-width="2.4"/><line x1="357.0" y1="134.6" x2="357.0" y2="142.1" stroke="#6a2ae0" stroke-width="2.4"/><circle cx="314.7" cy="72.0" r="1.9" fill="#1b2b2b"/><circle cx="357.0" cy="64.0" r="1.9" fill="#1b2b2b"/><circle cx="314.7" cy="108.0" r="1.9" fill="#e8f0f0"/><circle cx="357.0" cy="114.0" r="1.9" fill="#e8f0f0"/><circle cx="314.7" cy="153.0" r="1.9" fill="#9ccaca"/><circle cx="357.0" cy="148.0" r="1.9" fill="#9ccaca"/>
<line x1="294.4" y1="157.8" x2="294.4" y2="143.8" stroke="#000" stroke-width="1"/><path d="M291.8,145.8 L294.4,139.8 L297.0,145.8 Z" fill="#000"/><line x1="294.4" y1="157.8" x2="308.4" y2="157.8" stroke="#000" stroke-width="1"/><path d="M306.9,155.2 L312.9,157.8 L306.9,160.4 Z" fill="#000"/><text x="286.0" y="146.7" font-size="11.5" text-anchor="middle">z</text><text x="312.4" y="171.2" font-size="11.5" text-anchor="middle">x</text>
<line x1="294.4" y1="234.5" x2="336.4" y2="225.5" stroke="#111" stroke-width="0.55"/><line x1="294.4" y1="227.0" x2="336.4" y2="233.0" stroke="#111" stroke-width="0.45"/><line x1="335.1" y1="225.0" x2="377.1" y2="216.0" stroke="#111" stroke-width="0.55"/><line x1="335.1" y1="217.5" x2="377.1" y2="223.5" stroke="#111" stroke-width="0.45"/><line x1="294.3" y1="267.1" x2="336.3" y2="258.1" stroke="#111" stroke-width="0.55"/><line x1="294.3" y1="259.6" x2="336.3" y2="265.6" stroke="#111" stroke-width="0.45"/><line x1="334.7" y1="276.6" x2="376.7" y2="267.6" stroke="#111" stroke-width="0.55"/><line x1="334.7" y1="269.1" x2="376.7" y2="275.1" stroke="#111" stroke-width="0.45"/><line x1="293.4" y1="315.7" x2="335.4" y2="306.7" stroke="#111" stroke-width="0.55"/><line x1="293.4" y1="308.2" x2="335.4" y2="314.2" stroke="#111" stroke-width="0.45"/><line x1="335.7" y1="308.1" x2="377.7" y2="299.1" stroke="#111" stroke-width="0.55"/><line x1="335.7" y1="300.6" x2="377.7" y2="306.6" stroke="#111" stroke-width="0.45"/><path d="M315.4,230.0 L356.1,220.5" stroke="#8db7b6" stroke-width="3.2" fill="none" stroke-linecap="round"/><path d="M315.4,230.0 L356.1,220.5" stroke="#eef5f5" stroke-width="1.6" fill="none" stroke-linecap="round"/><path d="M315.4,230.0 L355.7,272.1" stroke="#8db7b6" stroke-width="3.2" fill="none" stroke-linecap="round"/><path d="M315.4,230.0 L355.7,272.1" stroke="#eef5f5" stroke-width="1.6" fill="none" stroke-linecap="round"/><path d="M356.1,220.5 L315.3,262.6" stroke="#8db7b6" stroke-width="3.2" fill="none" stroke-linecap="round"/><path d="M356.1,220.5 L315.3,262.6" stroke="#eef5f5" stroke-width="1.6" fill="none" stroke-linecap="round"/><path d="M315.4,230.0 L315.3,262.6" stroke="#8db7b6" stroke-width="3.2" fill="none" stroke-linecap="round"/><path d="M315.4,230.0 L315.3,262.6" stroke="#eef5f5" stroke-width="1.6" fill="none" stroke-linecap="round"/><path d="M356.1,220.5 L355.7,272.1" stroke="#8db7b6" stroke-width="3.2" fill="none" stroke-linecap="round"/><path d="M356.1,220.5 L355.7,272.1" stroke="#eef5f5" stroke-width="1.6" fill="none" stroke-linecap="round"/><path d="M315.3,262.6 L356.7,303.6" stroke="#8db7b6" stroke-width="3.2" fill="none" stroke-linecap="round"/><path d="M315.3,262.6 L356.7,303.6" stroke="#eef5f5" stroke-width="1.6" fill="none" stroke-linecap="round"/><path d="M355.7,272.1 L314.4,311.2" stroke="#8db7b6" stroke-width="3.2" fill="none" stroke-linecap="round"/><path d="M355.7,272.1 L314.4,311.2" stroke="#eef5f5" stroke-width="1.6" fill="none" stroke-linecap="round"/><path d="M315.3,262.6 L314.4,311.2" stroke="#8db7b6" stroke-width="3.2" fill="none" stroke-linecap="round"/><path d="M315.3,262.6 L314.4,311.2" stroke="#eef5f5" stroke-width="1.6" fill="none" stroke-linecap="round"/><path d="M355.7,272.1 L356.7,303.6" stroke="#8db7b6" stroke-width="3.2" fill="none" stroke-linecap="round"/><path d="M355.7,272.1 L356.7,303.6" stroke="#eef5f5" stroke-width="1.6" fill="none" stroke-linecap="round"/><path d="M315.4,230.0 L291.8,225.9" stroke="#8db7b6" stroke-width="3.3" fill="none" stroke-linecap="round"/><path d="M315.4,230.0 L291.8,225.9" stroke="#eef5f5" stroke-width="1.7" fill="none" stroke-linecap="round"/><path d="M302.4,227.7 L291.8,225.9" stroke="#4e9797" stroke-width="2.9" fill="none" stroke-linecap="round" opacity="0.75"/><path d="M302.4,227.7 L291.8,225.9" stroke="#b9dcda" stroke-width="0.9" fill="none" opacity="0.8"/><path d="M315.4,230.0 L291.8,231.6" stroke="#8db7b6" stroke-width="3.3" fill="none" stroke-linecap="round"/><path d="M315.4,230.0 L291.8,231.6" stroke="#eef5f5" stroke-width="1.7" fill="none" stroke-linecap="round"/><path d="M302.4,230.9 L291.8,231.6" stroke="#4e9797" stroke-width="2.9" fill="none" stroke-linecap="round" opacity="0.75"/><path d="M302.4,230.9 L291.8,231.6" stroke="#b9dcda" stroke-width="0.9" fill="none" opacity="0.8"/><path d="M315.4,230.0 L294.2,249.6" stroke="#8db7b6" stroke-width="3.3" fill="none" stroke-linecap="round"/><path d="M315.4,230.0 L294.2,249.6" stroke="#eef5f5" stroke-width="1.7" fill="none" stroke-linecap="round"/><path d="M303.7,240.8 L294.2,249.6" stroke="#4e9797" stroke-width="2.9" fill="none" stroke-linecap="round" opacity="0.75"/><path d="M303.7,240.8 L294.2,249.6" stroke="#b9dcda" stroke-width="0.9" fill="none" opacity="0.8"/><path d="M315.4,230.0 L337.4,217.5" stroke="#8db7b6" stroke-width="3.3" fill="none" stroke-linecap="round"/><path d="M315.4,230.0 L337.4,217.5" stroke="#eef5f5" stroke-width="1.7" fill="none" stroke-linecap="round"/><path d="M327.5,223.1 L337.4,217.5" stroke="#4e9797" stroke-width="2.9" fill="none" stroke-linecap="round" opacity="0.75"/><path d="M327.5,223.1 L337.4,217.5" stroke="#b9dcda" stroke-width="0.9" fill="none" opacity="0.8"/><path d="M356.1,220.5 L336.5,217.2" stroke="#8db7b6" stroke-width="3.3" fill="none" stroke-linecap="round"/><path d="M356.1,220.5 L336.5,217.2" stroke="#eef5f5" stroke-width="1.7" fill="none" stroke-linecap="round"/><path d="M345.3,218.7 L336.5,217.2" stroke="#4e9797" stroke-width="2.9" fill="none" stroke-linecap="round" opacity="0.75"/><path d="M345.3,218.7 L336.5,217.2" stroke="#b9dcda" stroke-width="0.9" fill="none" opacity="0.8"/><path d="M356.1,220.5 L376.5,214.0" stroke="#8db7b6" stroke-width="3.3" fill="none" stroke-linecap="round"/><path d="M356.1,220.5 L376.5,214.0" stroke="#eef5f5" stroke-width="1.7" fill="none" stroke-linecap="round"/><path d="M367.3,216.9 L376.5,214.0" stroke="#4e9797" stroke-width="2.9" fill="none" stroke-linecap="round" opacity="0.75"/><path d="M367.3,216.9 L376.5,214.0" stroke="#b9dcda" stroke-width="0.9" fill="none" opacity="0.8"/><path d="M356.1,220.5 L377.3,226.2" stroke="#8db7b6" stroke-width="3.3" fill="none" stroke-linecap="round"/><path d="M356.1,220.5 L377.3,226.2" stroke="#eef5f5" stroke-width="1.7" fill="none" stroke-linecap="round"/><path d="M367.8,223.6 L377.3,226.2" stroke="#4e9797" stroke-width="2.9" fill="none" stroke-linecap="round" opacity="0.75"/><path d="M367.8,223.6 L377.3,226.2" stroke="#b9dcda" stroke-width="0.9" fill="none" opacity="0.8"/><path d="M356.1,220.5 L377.3,243.3" stroke="#8db7b6" stroke-width="3.3" fill="none" stroke-linecap="round"/><path d="M356.1,220.5 L377.3,243.3" stroke="#eef5f5" stroke-width="1.7" fill="none" stroke-linecap="round"/><path d="M367.8,233.0 L377.3,243.3" stroke="#4e9797" stroke-width="2.9" fill="none" stroke-linecap="round" opacity="0.75"/><path d="M367.8,233.0 L377.3,243.3" stroke="#b9dcda" stroke-width="0.9" fill="none" opacity="0.8"/><path d="M315.3,262.6 L293.4,263.6" stroke="#8db7b6" stroke-width="3.3" fill="none" stroke-linecap="round"/><path d="M315.3,262.6 L293.4,263.6" stroke="#eef5f5" stroke-width="1.7" fill="none" stroke-linecap="round"/><path d="M303.3,263.2 L293.4,263.6" stroke="#4e9797" stroke-width="2.9" fill="none" stroke-linecap="round" opacity="0.75"/><path d="M303.3,263.2 L293.4,263.6" stroke="#b9dcda" stroke-width="0.9" fill="none" opacity="0.8"/><path d="M315.3,262.6 L294.4,283.6" stroke="#8db7b6" stroke-width="3.3" fill="none" stroke-linecap="round"/><path d="M315.3,262.6 L294.4,283.6" stroke="#eef5f5" stroke-width="1.7" fill="none" stroke-linecap="round"/><path d="M303.8,274.2 L294.4,283.6" stroke="#4e9797" stroke-width="2.9" fill="none" stroke-linecap="round" opacity="0.75"/><path d="M303.8,274.2 L294.4,283.6" stroke="#b9dcda" stroke-width="0.9" fill="none" opacity="0.8"/><path d="M315.3,262.6 L301.0,255.0" stroke="#8db7b6" stroke-width="3.3" fill="none" stroke-linecap="round"/><path d="M315.3,262.6 L301.0,255.0" stroke="#eef5f5" stroke-width="1.7" fill="none" stroke-linecap="round"/><path d="M307.4,258.4 L301.0,255.0" stroke="#4e9797" stroke-width="2.9" fill="none" stroke-linecap="round" opacity="0.75"/><path d="M307.4,258.4 L301.0,255.0" stroke="#b9dcda" stroke-width="0.9" fill="none" opacity="0.8"/><path d="M315.3,262.6 L335.3,258.8" stroke="#8db7b6" stroke-width="3.3" fill="none" stroke-linecap="round"/><path d="M315.3,262.6 L335.3,258.8" stroke="#eef5f5" stroke-width="1.7" fill="none" stroke-linecap="round"/><path d="M326.3,260.5 L335.3,258.8" stroke="#4e9797" stroke-width="2.9" fill="none" stroke-linecap="round" opacity="0.75"/><path d="M326.3,260.5 L335.3,258.8" stroke="#b9dcda" stroke-width="0.9" fill="none" opacity="0.8"/><path d="M355.7,272.1 L375.7,253.0" stroke="#8db7b6" stroke-width="3.3" fill="none" stroke-linecap="round"/><path d="M355.7,272.1 L375.7,253.0" stroke="#eef5f5" stroke-width="1.7" fill="none" stroke-linecap="round"/><path d="M366.7,261.6 L375.7,253.0" stroke="#4e9797" stroke-width="2.9" fill="none" stroke-linecap="round" opacity="0.75"/><path d="M366.7,261.6 L375.7,253.0" stroke="#b9dcda" stroke-width="0.9" fill="none" opacity="0.8"/><path d="M355.7,272.1 L336.7,276.0" stroke="#8db7b6" stroke-width="3.3" fill="none" stroke-linecap="round"/><path d="M355.7,272.1 L336.7,276.0" stroke="#eef5f5" stroke-width="1.7" fill="none" stroke-linecap="round"/><path d="M345.2,274.2 L336.7,276.0" stroke="#4e9797" stroke-width="2.9" fill="none" stroke-linecap="round" opacity="0.75"/><path d="M345.2,274.2 L336.7,276.0" stroke="#b9dcda" stroke-width="0.9" fill="none" opacity="0.8"/><path d="M355.7,272.1 L376.7,293.1" stroke="#8db7b6" stroke-width="3.3" fill="none" stroke-linecap="round"/><path d="M355.7,272.1 L376.7,293.1" stroke="#eef5f5" stroke-width="1.7" fill="none" stroke-linecap="round"/><path d="M367.2,283.7 L376.7,293.1" stroke="#4e9797" stroke-width="2.9" fill="none" stroke-linecap="round" opacity="0.75"/><path d="M367.2,283.7 L376.7,293.1" stroke="#b9dcda" stroke-width="0.9" fill="none" opacity="0.8"/><path d="M314.4,311.2 L291.5,291.2" stroke="#8db7b6" stroke-width="3.3" fill="none" stroke-linecap="round"/><path d="M314.4,311.2 L291.5,291.2" stroke="#eef5f5" stroke-width="1.7" fill="none" stroke-linecap="round"/><path d="M301.8,300.2 L291.5,291.2" stroke="#4e9797" stroke-width="2.9" fill="none" stroke-linecap="round" opacity="0.75"/><path d="M301.8,300.2 L291.5,291.2" stroke="#b9dcda" stroke-width="0.9" fill="none" opacity="0.8"/><path d="M314.4,311.2 L295.3,307.4" stroke="#8db7b6" stroke-width="3.3" fill="none" stroke-linecap="round"/><path d="M314.4,311.2 L295.3,307.4" stroke="#eef5f5" stroke-width="1.7" fill="none" stroke-linecap="round"/><path d="M303.9,309.1 L295.3,307.4" stroke="#4e9797" stroke-width="2.9" fill="none" stroke-linecap="round" opacity="0.75"/><path d="M303.9,309.1 L295.3,307.4" stroke="#b9dcda" stroke-width="0.9" fill="none" opacity="0.8"/><path d="M314.4,311.2 L295.3,317.9" stroke="#8db7b6" stroke-width="3.3" fill="none" stroke-linecap="round"/><path d="M314.4,311.2 L295.3,317.9" stroke="#eef5f5" stroke-width="1.7" fill="none" stroke-linecap="round"/><path d="M303.9,314.9 L295.3,317.9" stroke="#4e9797" stroke-width="2.9" fill="none" stroke-linecap="round" opacity="0.75"/><path d="M303.9,314.9 L295.3,317.9" stroke="#b9dcda" stroke-width="0.9" fill="none" opacity="0.8"/><path d="M314.4,311.2 L335.3,316.0" stroke="#8db7b6" stroke-width="3.3" fill="none" stroke-linecap="round"/><path d="M314.4,311.2 L335.3,316.0" stroke="#eef5f5" stroke-width="1.7" fill="none" stroke-linecap="round"/><path d="M325.9,313.8 L335.3,316.0" stroke="#4e9797" stroke-width="2.9" fill="none" stroke-linecap="round" opacity="0.75"/><path d="M325.9,313.8 L335.3,316.0" stroke="#b9dcda" stroke-width="0.9" fill="none" opacity="0.8"/><path d="M356.7,303.6 L379.5,300.7" stroke="#8db7b6" stroke-width="3.3" fill="none" stroke-linecap="round"/><path d="M356.7,303.6 L379.5,300.7" stroke="#eef5f5" stroke-width="1.7" fill="none" stroke-linecap="round"/><path d="M369.2,302.0 L379.5,300.7" stroke="#4e9797" stroke-width="2.9" fill="none" stroke-linecap="round" opacity="0.75"/><path d="M369.2,302.0 L379.5,300.7" stroke="#b9dcda" stroke-width="0.9" fill="none" opacity="0.8"/><path d="M356.7,303.6 L379.5,305.5" stroke="#8db7b6" stroke-width="3.3" fill="none" stroke-linecap="round"/><path d="M356.7,303.6 L379.5,305.5" stroke="#eef5f5" stroke-width="1.7" fill="none" stroke-linecap="round"/><path d="M369.2,304.6 L379.5,305.5" stroke="#4e9797" stroke-width="2.9" fill="none" stroke-linecap="round" opacity="0.75"/><path d="M369.2,304.6 L379.5,305.5" stroke="#b9dcda" stroke-width="0.9" fill="none" opacity="0.8"/><path d="M356.7,303.6 L335.7,296.0" stroke="#8db7b6" stroke-width="3.3" fill="none" stroke-linecap="round"/><path d="M356.7,303.6 L335.7,296.0" stroke="#eef5f5" stroke-width="1.7" fill="none" stroke-linecap="round"/><path d="M345.1,299.4 L335.7,296.0" stroke="#4e9797" stroke-width="2.9" fill="none" stroke-linecap="round" opacity="0.75"/><path d="M345.1,299.4 L335.7,296.0" stroke="#b9dcda" stroke-width="0.9" fill="none" opacity="0.8"/><path d="M356.7,303.6 L332.0,310.2" stroke="#8db7b6" stroke-width="3.3" fill="none" stroke-linecap="round"/><path d="M356.7,303.6 L332.0,310.2" stroke="#eef5f5" stroke-width="1.7" fill="none" stroke-linecap="round"/><path d="M343.1,307.2 L332.0,310.2" stroke="#4e9797" stroke-width="2.9" fill="none" stroke-linecap="round" opacity="0.75"/><path d="M343.1,307.2 L332.0,310.2" stroke="#b9dcda" stroke-width="0.9" fill="none" opacity="0.8"/><path d="M356.7,303.6 L378.6,283.6" stroke="#8db7b6" stroke-width="3.3" fill="none" stroke-linecap="round"/><path d="M356.7,303.6 L378.6,283.6" stroke="#eef5f5" stroke-width="1.7" fill="none" stroke-linecap="round"/><path d="M368.7,292.6 L378.6,283.6" stroke="#4e9797" stroke-width="2.9" fill="none" stroke-linecap="round" opacity="0.75"/><path d="M368.7,292.6 L378.6,283.6" stroke="#b9dcda" stroke-width="0.9" fill="none" opacity="0.8"/><path d="M312.5,238 Q307,250 312,264" stroke="#3f8c8c" stroke-width="2.6" fill="none" stroke-linecap="round"/><path d="M318,240 L318.5,262" stroke="#3f8c8c" stroke-width="2.2" fill="none" stroke-linecap="round"/><path d="M358.5,252 L358.5,262" stroke="#3f8c8c" stroke-width="2.4" fill="none" stroke-linecap="round"/><path d="M296,212.5 L303,216" stroke="#3f8c8c" stroke-width="2.2" fill="none" stroke-linecap="round"/><path d="M289.3,251.2 L298.3,254.5" stroke="#2218b8" stroke-width="2.4" fill="none" stroke-linecap="round"/><path d="M298.3,254.5 L301.6,256.1" stroke="#6a2ae0" stroke-width="2.2" fill="none" stroke-linecap="round"/><path d="M331,268.3 Q337,269.8 343.3,271.2" stroke="#6a2ae0" stroke-width="2.6" fill="none" stroke-linecap="round"/><path d="M366.2,269.3 L374.8,270.2" stroke="#2218c8" stroke-width="2.8" fill="none" stroke-linecap="round"/><path d="M320,276 L320,280.5" stroke="#3a2ad0" stroke-width="2.2" fill="none"/><path d="M320,297.5 L320,302" stroke="#3a2ad0" stroke-width="2.2" fill="none"/><circle cx="315.4" cy="230.0" r="2.2" fill="#f7fafa"/><circle cx="356.1" cy="220.5" r="2.2" fill="#f7fafa"/><circle cx="315.3" cy="262.6" r="2.2" fill="#f7fafa"/><circle cx="355.7" cy="272.1" r="2.2" fill="#f7fafa"/><circle cx="314.4" cy="311.2" r="2.2" fill="#f7fafa"/><circle cx="356.7" cy="303.6" r="2.2" fill="#f7fafa"/>
<line x1="293.5" y1="318.3" x2="293.5" y2="304.3" stroke="#000" stroke-width="1"/><path d="M290.9,306.3 L293.5,300.3 L296.1,306.3 Z" fill="#000"/><line x1="293.5" y1="318.3" x2="307.5" y2="318.3" stroke="#000" stroke-width="1"/><path d="M306.0,315.7 L312.0,318.3 L306.0,320.9 Z" fill="#000"/><text x="283.5" y="306.5" font-size="11.5" text-anchor="middle">z</text><text x="310.0" y="330.6" font-size="11.5" text-anchor="middle">x</text>
<rect x="305.3" y="345.1" width="66.8" height="7.9" fill="url(#cbar)" stroke="#ccc" stroke-width="0.4"/>
<text x="338.6" y="340.5" font-size="12" text-anchor="middle">|<tspan font-style="italic">u</tspan>|</text>
<text x="306.8" y="366" font-size="12" text-anchor="middle">0</text>
<text x="370.5" y="366" font-size="12" text-anchor="middle">max</text>
<text x="398.5" y="14.6" font-size="17" font-weight="bold">(c)</text>
<text x="483.3" y="28.8" font-size="14.2" text-anchor="middle">High-Frequency mode</text>
<rect x="438.4" y="37.6" width="100.6" height="105.4" fill="none" stroke="#777" stroke-width="1.1"/>
<path d="M438.50,138.01 L441.06,137.73 L443.62,137.25 L446.18,136.59 L448.75,135.75 L451.31,134.74 L453.87,133.57 L456.43,132.26 L458.99,130.80 L461.55,129.22 L464.12,127.51 L466.68,125.69 L469.24,123.76 L471.80,121.74 L474.36,119.64 L476.92,117.45 L479.48,115.20 L482.05,112.89 L484.61,110.53 L487.17,108.13 L489.73,105.69 L492.29,103.24 L494.85,100.77 L497.42,98.29 L499.98,95.82 L502.54,93.36 L505.10,90.92 L507.66,88.52 L510.22,86.16 L512.78,83.84 L515.35,81.58 L517.91,79.39 L520.47,77.28 L523.03,75.25 L525.59,73.32 L528.15,71.49 L530.72,69.77 L533.28,68.18 L535.84,66.71 L538.40,65.39" stroke="#d2d2d2" stroke-width="1.3" fill="none"/>
<path d="M438.50,132.07 L441.06,131.85 L443.62,131.42 L446.18,130.79 L448.75,129.98 L451.31,128.99 L453.87,127.83 L456.43,126.51 L458.99,125.04 L461.55,123.44 L464.12,121.70 L466.68,119.85 L469.24,117.89 L471.80,115.82 L474.36,113.67 L476.92,111.43 L479.48,109.12 L482.05,106.76 L484.61,104.34 L487.17,101.88 L489.73,99.38 L492.29,96.87 L494.85,94.34 L497.42,91.81 L499.98,89.29 L502.54,86.78 L505.10,84.30 L507.66,81.85 L510.22,79.45 L512.78,77.11 L515.35,74.83 L517.91,72.63 L520.47,70.51 L523.03,68.48 L525.59,66.56 L528.15,64.75 L530.72,63.07 L533.28,61.52 L535.84,60.11 L538.40,58.86" stroke="#a6a6a6" stroke-width="1.3" fill="none"/>
<path d="M438.50,124.81 L441.06,124.27 L443.62,123.57 L446.18,122.73 L448.75,121.75 L451.31,120.62 L453.87,119.38 L456.43,118.01 L458.99,116.53 L461.55,114.94 L464.12,113.25 L466.68,111.47 L469.24,109.61 L471.80,107.67 L474.36,105.66 L476.92,103.58 L479.48,101.45 L482.05,99.27 L484.61,97.05 L487.17,94.79 L489.73,92.51 L492.29,90.20 L494.85,87.88 L497.42,85.56 L499.98,83.24 L502.54,80.92 L505.10,78.62 L507.66,76.34 L510.22,74.10 L512.78,71.88 L515.35,69.72 L517.91,67.60 L520.47,65.54 L523.03,63.55 L525.59,61.63 L528.15,59.79 L530.72,58.04 L533.28,56.38 L535.84,54.82 L538.40,53.37" stroke="#6e6e6e" stroke-width="1.3" fill="none"/>
<path d="M438.50,112.70 L441.06,112.08 L443.62,111.34 L446.18,110.47 L448.75,109.49 L451.31,108.40 L453.87,107.21 L456.43,105.92 L458.99,104.53 L461.55,103.06 L464.12,101.51 L466.68,99.88 L469.24,98.19 L471.80,96.43 L474.36,94.62 L476.92,92.76 L479.48,90.85 L482.05,88.90 L484.61,86.92 L487.17,84.91 L489.73,82.88 L492.29,80.84 L494.85,78.79 L497.42,76.73 L499.98,74.67 L502.54,72.63 L505.10,70.59 L507.66,68.58 L510.22,66.59 L512.78,64.64 L515.35,62.72 L517.91,60.85 L520.47,59.02 L523.03,57.25 L525.59,55.55 L528.15,53.91 L530.72,52.34 L533.28,50.85 L535.84,49.45 L538.40,48.14" stroke="#3c3c3c" stroke-width="1.3" fill="none"/>
<path d="M438.50,91.01 L441.06,90.25 L443.62,89.44 L446.18,88.59 L448.75,87.70 L451.31,86.76 L453.87,85.79 L456.43,84.79 L458.99,83.74 L461.55,82.67 L464.12,81.56 L466.68,80.41 L469.24,79.24 L471.80,78.04 L474.36,76.82 L476.92,75.56 L479.48,74.29 L482.05,72.99 L484.61,71.66 L487.17,70.32 L489.73,68.96 L492.29,67.59 L494.85,66.19 L497.42,64.78 L499.98,63.36 L502.54,61.93 L505.10,60.49 L507.66,59.04 L510.22,57.58 L512.78,56.11 L515.35,54.64 L517.91,53.17 L520.47,51.70 L523.03,50.22 L525.59,48.75 L528.15,47.28 L530.72,45.81 L533.28,44.35 L535.84,42.90 L538.40,41.45" stroke="#1e1e1e" stroke-width="1.3" fill="none"/>
<line x1="438.4" y1="87.3" x2="540.0" y2="87.3" stroke="#d02828" stroke-width="1.0"/>
<text x="440.2" y="82.0" font-size="12" fill="#d42020"><tspan font-style="italic">f</tspan><tspan font-size="7.9" dx="0.6" dy="0.8">fixed</tspan></text>
<text x="435.6" y="51.9" font-size="13.6" text-anchor="end">7</text>
<text x="435.6" y="100.6" font-size="13.6" text-anchor="end">5</text>
<text x="435.6" y="148.0" font-size="13.6" text-anchor="end">3</text>
<text transform="translate(423,91) rotate(-90)" font-size="13" font-style="italic" text-anchor="middle">Frequency (kHz)</text>
<text x="489" y="157" font-size="13" font-style="italic" text-anchor="middle">Wave vector</text>
<text x="488.2" y="223.7" font-size="14" text-anchor="middle">A<tspan font-size="10" dy="2.3">0</tspan><tspan dy="-2.3"> mode</tspan></text>
<rect x="438.4" y="232.0" width="100.6" height="105.5" fill="none" stroke="#777" stroke-width="1.1"/>
<path d="M438.5,337.0 C481.0,337.0 498.0,302.3 538.3,278.1" stroke="#d2d2d2" stroke-width="1.3" fill="none"/>
<path d="M438.5,337.0 C480.2,337.0 490.1,306.9 538.3,272.2" stroke="#a6a6a6" stroke-width="1.3" fill="none"/>
<path d="M438.5,337.0 C479.1,337.0 483.6,311.5 538.3,265.0" stroke="#6e6e6e" stroke-width="1.3" fill="none"/>
<path d="M438.5,337.0 C477.8,337.0 489.0,308.7 538.3,253.5" stroke="#3c3c3c" stroke-width="1.3" fill="none"/>
<path d="M438.5,337.0 C482.9,337.0 496.9,294.0 538.1,234.2" stroke="#1e1e1e" stroke-width="1.3" fill="none"/>
<line x1="438.4" y1="284.4" x2="541" y2="284.4" stroke="#d02828" stroke-width="1.0"/>
<text x="440.4" y="279.8" font-size="12" fill="#e02020"><tspan font-style="italic">f</tspan><tspan font-size="7.9" dx="0.6" dy="0.8">fixed</tspan></text>
<text x="436" y="236.8" font-size="12.4" text-anchor="end">1.8</text>
<text x="436" y="341.3" font-size="13" text-anchor="end">0</text>
<text transform="translate(423,286) rotate(-90)" font-size="13" font-style="italic" text-anchor="middle">Frequency (kHz)</text>
<text x="489.5" y="352" font-size="13" font-style="italic" text-anchor="middle">Wave vector</text>
<text x="614.5" y="85.4" font-size="14" text-anchor="middle">Bandgap</text>
<path d="M566.5,94 L591.3,156.5 L615.7,187.1 L640,205.5 L665,216.5 L665,251.9 L640,241.4 L615.7,225.7 L591.3,199.3 L566.5,140.1 Z" fill="#3b3b3b" stroke="#222" stroke-width="0.8"/>
<clipPath id="bgc"><path d="M566.5,94 L591.3,156.5 L615.7,187.1 L640,205.5 L665,216.5 L665,251.9 L640,241.4 L615.7,225.7 L591.3,199.3 L566.5,140.1 Z"/></clipPath>
<g clip-path="url(#bgc)">
<line x1="567.2" y1="94.0" x2="567.2" y2="251.9" stroke="#0a0a0a" stroke-width="1.3"/>
<line x1="591.3" y1="94.0" x2="591.3" y2="251.9" stroke="#0a0a0a" stroke-width="1.3"/>
<line x1="615.7" y1="94.0" x2="615.7" y2="251.9" stroke="#0a0a0a" stroke-width="1.3"/>
<line x1="640.0" y1="94.0" x2="640.0" y2="251.9" stroke="#0a0a0a" stroke-width="1.3"/>
<line x1="664.6" y1="94.0" x2="664.6" y2="251.9" stroke="#0a0a0a" stroke-width="1.3"/>
</g>
<line x1="567.2" y1="94.0" x2="567.2" y2="251.9" stroke="#b0b0b0" stroke-width="1.1" stroke-dasharray="5.4 2.7"/>
<line x1="591.3" y1="94.0" x2="591.3" y2="251.9" stroke="#b0b0b0" stroke-width="1.1" stroke-dasharray="5.4 2.7"/>
<line x1="615.7" y1="94.0" x2="615.7" y2="251.9" stroke="#b0b0b0" stroke-width="1.1" stroke-dasharray="5.4 2.7"/>
<line x1="640.0" y1="94.0" x2="640.0" y2="251.9" stroke="#b0b0b0" stroke-width="1.1" stroke-dasharray="5.4 2.7"/>
<line x1="664.6" y1="94.0" x2="664.6" y2="251.9" stroke="#b0b0b0" stroke-width="1.1" stroke-dasharray="5.4 2.7"/>
<rect x="566.1" y="94.0" width="100.3" height="157.9" fill="none" stroke="#777" stroke-width="1.1"/>
<text x="562.6" y="96.0" font-size="12.8" text-anchor="end">5.1</text>
<text x="562.8" y="252.9" font-size="12.8" text-anchor="end">1.7</text>
<text x="567.5" y="266.3" font-size="11.8" text-anchor="middle">0</text>
<text x="591.4" y="266.3" font-size="11.8" text-anchor="middle">4</text>
<text x="617.9" y="266.3" font-size="11.8" text-anchor="middle">8</text>
<text x="641.0" y="266.3" font-size="11.8" text-anchor="middle">12</text>
<text x="664.9" y="266.3" font-size="11.8" text-anchor="middle">16</text>
<text x="551" y="279.5" font-size="12.9" font-style="italic">added mass ratio (m/m<tspan font-size="9.2" dy="2.5">ref</tspan><tspan dy="-2.5">)</tspan></text>
<text transform="translate(551.5,160.7) rotate(-90)" font-size="13" font-style="italic" text-anchor="middle">Frequency (kHz)</text>
<line x1="571.7" y1="306.4" x2="593.8" y2="306.4" stroke="#1a1a1a" stroke-width="1.5"/>
<text x="598.8" y="310.2" font-size="11.45">standard octet</text>
<line x1="571.7" y1="320.0" x2="593.8" y2="320.0" stroke="#5a5a5a" stroke-width="1.5"/>
<text x="598.8" y="323.8" font-size="11.7"><tspan font-style="italic">m</tspan> = 4 <tspan font-style="italic">m<tspan font-size="8.5" dy="2">ref</tspan></tspan></text>
<line x1="571.7" y1="333.1" x2="593.8" y2="333.1" stroke="#8a8a8a" stroke-width="1.5"/>
<text x="598.8" y="336.9" font-size="11.7"><tspan font-style="italic">m</tspan> = 8 <tspan font-style="italic">m<tspan font-size="8.5" dy="2">ref</tspan></tspan></text>
<line x1="571.7" y1="346.4" x2="593.8" y2="346.4" stroke="#b8b8b8" stroke-width="1.5"/>
<text x="598.8" y="350.2" font-size="11.7"><tspan font-style="italic">m</tspan> = 12 <tspan font-style="italic">m<tspan font-size="8.5" dy="2">ref</tspan></tspan></text>
<line x1="571.7" y1="361.3" x2="593.8" y2="361.3" stroke="#dcdcdc" stroke-width="1.5"/>
<text x="598.8" y="365.1" font-size="11.7"><tspan font-style="italic">m</tspan> = 16 <tspan font-style="italic">m<tspan font-size="8.5" dy="2">ref</tspan></tspan></text>
</svg></body></html>
